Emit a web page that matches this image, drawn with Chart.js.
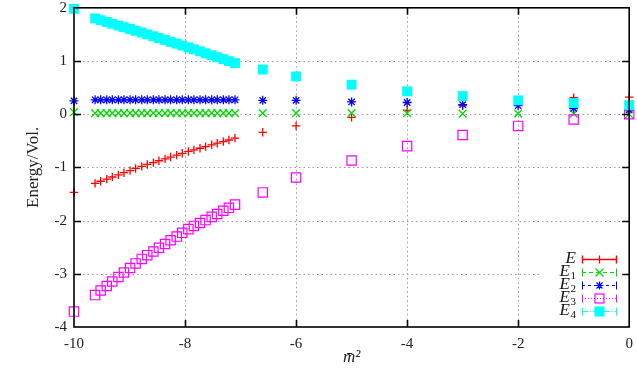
<!DOCTYPE html>
<html>
<head>
<meta charset="utf-8">
<script src="https://cdn.jsdelivr.net/npm/chart.js@4.4.1/dist/chart.umd.min.js"></script>
<style>
  html, body { margin: 0; padding: 0; background: #fff; }
</style>
</head>
<body>
<canvas id="chart" width="637" height="368"></canvas>
<script>
// m^2 values (x axis)
const mSquared = [-10,
  -9.62, -9.52, -9.41, -9.31, -9.20, -9.10, -8.99, -8.89, -8.78, -8.68, -8.57, -8.47, -8.36,
  -8.26, -8.15, -8.05, -7.94, -7.84, -7.73, -7.63, -7.52, -7.42, -7.31, -7.21, -7.10,
  -6.6, -6, -5, -4, -3, -2, -1, 0];

const energyE = [-1.47,
  -1.30, -1.26, -1.22, -1.18, -1.14, -1.10, -1.06, -1.02, -0.98, -0.945, -0.91, -0.875, -0.84,
  -0.805, -0.77, -0.735, -0.70, -0.67, -0.64, -0.61, -0.575, -0.545, -0.515, -0.485, -0.45,
  -0.34, -0.22, -0.06, 0.07, 0.16, 0.25, 0.31, 0.32];

const energyE1 = [0.04,
  0.02, 0.02, 0.02, 0.02, 0.02, 0.02, 0.02, 0.02, 0.02, 0.02, 0.02, 0.02, 0.02,
  0.02, 0.02, 0.02, 0.02, 0.02, 0.02, 0.02, 0.02, 0.02, 0.02, 0.02, 0.02,
  0.02, 0.02, 0.02, 0.02, 0.01, 0.01, 0.01, 0.0];

const energyE2 = [0.25,
  0.27, 0.27, 0.27, 0.27, 0.27, 0.27, 0.27, 0.27, 0.27, 0.27, 0.27, 0.27, 0.27,
  0.27, 0.27, 0.27, 0.27, 0.27, 0.27, 0.27, 0.27, 0.27, 0.27, 0.27, 0.27,
  0.26, 0.26, 0.23, 0.22, 0.18, 0.16, 0.11, 0.08];

const energyE3 = [-3.71,
  -3.40, -3.315, -3.23, -3.145, -3.06, -2.975, -2.89, -2.805, -2.72, -2.65, -2.58, -2.51, -2.44,
  -2.37, -2.30, -2.23, -2.16, -2.10, -2.045, -1.99, -1.93, -1.875, -1.815, -1.76, -1.70,
  -1.47, -1.19, -0.87, -0.60, -0.39, -0.22, -0.10, 0.0];

const energyE4 = [1.98,
  1.80, 1.767, 1.734, 1.701, 1.668, 1.635, 1.602, 1.569, 1.536, 1.501, 1.466, 1.431, 1.396,
  1.361, 1.326, 1.291, 1.256, 1.219, 1.182, 1.145, 1.108, 1.071, 1.034, 0.997, 0.96,
  0.84, 0.71, 0.555, 0.43, 0.34, 0.26, 0.21, 0.17];

const xTicks = [-10, -8, -6, -4, -2, 0];
const yTicks = [-4, -3, -2, -1, 0, 1, 2];

const seriesNames = ['E', 'E1', 'E2', 'E3', 'E4'];
const seriesColors = ['#ff0000', '#00dd00', '#0000ff', '#ff00ff', '#00ffff'];

const serif = "'Liberation Serif', 'DejaVu Serif', serif";

function points(values) {
  return mSquared.map((x, i) => ({ x: x, y: values[i] }));
}

function drawMark(ctx, style, color, x, y) {
  ctx.save();
  ctx.strokeStyle = color;
  ctx.fillStyle = color;
  ctx.lineWidth = 1.2;
  ctx.setLineDash([]);
  ctx.beginPath();
  if (style === 'cross') {
    ctx.moveTo(x - 4, y); ctx.lineTo(x + 4, y);
    ctx.moveTo(x, y - 4); ctx.lineTo(x, y + 4);
    ctx.stroke();
  } else if (style === 'crossRot') {
    ctx.moveTo(x - 4, y - 4); ctx.lineTo(x + 4, y + 4);
    ctx.moveTo(x - 4, y + 4); ctx.lineTo(x + 4, y - 4);
    ctx.stroke();
  } else if (style === 'star') {
    ctx.moveTo(x - 4, y); ctx.lineTo(x + 4, y);
    ctx.moveTo(x, y - 4); ctx.lineTo(x, y + 4);
    ctx.moveTo(x - 3, y - 3); ctx.lineTo(x + 3, y + 3);
    ctx.moveTo(x - 3, y + 3); ctx.lineTo(x + 3, y - 3);
    ctx.stroke();
  } else if (style === 'rectOpen') {
    ctx.strokeRect(x - 4.5, y - 4.5, 9, 9);
  } else {
    ctx.fillRect(x - 5, y - 5, 10, 10);
  }
  ctx.restore();
}

const gridPlugin = {
  id: 'gnuGrid',
  beforeDatasetsDraw(chart) {
    const { ctx, chartArea: a, scales: { x, y } } = chart;
    ctx.save();
    ctx.strokeStyle = '#9a9a9a';
    ctx.lineWidth = 1;
    ctx.setLineDash([1.5, 3]);
    xTicks.slice(1, -1).forEach(v => {
      const px = Math.round(x.getPixelForValue(v)) + 0.5;
      ctx.beginPath(); ctx.moveTo(px, a.top); ctx.lineTo(px, a.bottom); ctx.stroke();
    });
    yTicks.slice(1, -1).forEach(v => {
      const py = Math.round(y.getPixelForValue(v)) + 0.5;
      ctx.beginPath(); ctx.moveTo(a.left, py); ctx.lineTo(a.right, py); ctx.stroke();
    });
    ctx.restore();
  },
  afterDraw(chart) {
    const { ctx, chartArea: a, scales: { x, y } } = chart;

    // key box (white, hides the grid under it)
    ctx.save();
    ctx.fillStyle = '#fff';
    ctx.fillRect(542, 250, a.right - 543, 68);

    const styles = ['cross', 'crossRot', 'star', 'rectOpen', 'rect'];
    const dashes = [[], [4, 3], [3, 3], [1, 2], [6, 2, 1, 2]];
    seriesNames.forEach((name, i) => {
      const ry = 259 + i * 13;
      // label, right aligned
      ctx.fillStyle = '#111';
      ctx.textBaseline = 'middle';
      ctx.textAlign = 'right';
      const sub = name.slice(1);
      let right = 576;
      if (sub) {
        ctx.font = '11px ' + serif;
        ctx.fillText(sub, right, ry + 4);
        right -= ctx.measureText(sub).width + 0.5;
      }
      ctx.font = 'italic 17px ' + serif;
      ctx.fillText(name[0], right, ry);

      // sample line with end caps
      ctx.strokeStyle = seriesColors[i];
      ctx.lineWidth = i === 0 ? 1.5 : 1;
      ctx.setLineDash(dashes[i]);
      ctx.beginPath(); ctx.moveTo(582, ry + 0.5); ctx.lineTo(617, ry + 0.5); ctx.stroke();
      ctx.setLineDash([]);
      ctx.beginPath();
      ctx.moveTo(582.5, ry - 3.5); ctx.lineTo(582.5, ry + 4.5);
      ctx.moveTo(616.5, ry - 3.5); ctx.lineTo(616.5, ry + 4.5);
      ctx.stroke();
      drawMark(ctx, styles[i], seriesColors[i], 599.5, ry + 0.5);
    });
    ctx.restore();

    // frame and inward ticks on all four sides
    ctx.save();
    ctx.strokeStyle = '#000';
    ctx.lineWidth = 1.6;
    ctx.strokeRect(a.left, a.top, a.right - a.left, a.bottom - a.top);
    ctx.beginPath();
    xTicks.slice(1, -1).forEach(v => {
      const px = Math.round(x.getPixelForValue(v)) + 0.5;
      ctx.moveTo(px, a.bottom); ctx.lineTo(px, a.bottom - 7);
      ctx.moveTo(px, a.top); ctx.lineTo(px, a.top + 7);
    });
    yTicks.slice(1, -1).forEach(v => {
      const py = Math.round(y.getPixelForValue(v)) + 0.5;
      ctx.moveTo(a.left, py); ctx.lineTo(a.left + 7, py);
      ctx.moveTo(a.right, py); ctx.lineTo(a.right - 7, py);
    });
    ctx.stroke();
    ctx.restore();
  }
};

const ctx = document.getElementById('chart').getContext('2d');
new Chart(ctx, {
  type: 'scatter',
  data: {
    datasets: [
      { label: 'E', data: points(energyE), pointStyle: 'cross', pointRadius: 4.2, borderWidth: 1.3,
        borderColor: seriesColors[0], backgroundColor: seriesColors[0], order: 4 },
      { label: 'E1', data: points(energyE1), pointStyle: 'crossRot', pointRadius: 5.5, borderWidth: 1.3,
        borderColor: seriesColors[1], backgroundColor: seriesColors[1], order: 3 },
      { label: 'E2', data: points(energyE2), pointStyle: 'star', pointRadius: 4.5, borderWidth: 1.3,
        borderColor: seriesColors[2], backgroundColor: seriesColors[2], order: 2 },
      { label: 'E3', data: points(energyE3), pointStyle: 'rect', pointRadius: 6.6, borderWidth: 1.2,
        borderColor: seriesColors[3], backgroundColor: 'rgba(0,0,0,0)', order: 1 },
      { label: 'E4', data: points(energyE4), pointStyle: 'rect', pointRadius: 7, borderWidth: 0,
        borderColor: seriesColors[4], backgroundColor: seriesColors[4], order: 0 }
    ].map(d => Object.assign(d, { showLine: false, clip: false, pointHoverRadius: d.pointRadius }))
  },
  options: {
    responsive: false,
    animation: false,
    layout: { padding: { top: 6, right: 7, left: 0, bottom: 0 } },
    plugins: { legend: { display: false }, tooltip: { enabled: false } },
    scales: {
      x: {
        type: 'linear', min: -10, max: 0,
        afterFit: s => { s.height = 41; s.paddingLeft = 0; s.paddingRight = 0; },
        afterBuildTicks: s => { s.ticks = xTicks.map(v => ({ value: v })); },
        grid: { display: false, drawTicks: false },
        border: { display: false },
        ticks: { padding: 8, color: '#222', font: { family: serif, size: 15 } },
        title: { display: true, text: 'm̄²', color: '#222', padding: 0,
                 font: { family: serif, size: 17, style: 'italic' } }
      },
      y: {
        type: 'linear', min: -4, max: 2,
        afterFit: s => { s.width = 74; s.paddingTop = 0; s.paddingBottom = 0; },
        afterBuildTicks: s => { s.ticks = yTicks.map(v => ({ value: v })); },
        grid: { display: false, drawTicks: false },
        border: { display: false },
        ticks: { padding: 7, color: '#222', font: { family: serif, size: 15 } },
        title: { display: true, text: 'Energy/Vol.', color: '#222', padding: { top: 23, bottom: 0 },
                 font: { family: serif, size: 17 } }
      }
    }
  },
  plugins: [gridPlugin]
});
</script>
</body>
</html>
